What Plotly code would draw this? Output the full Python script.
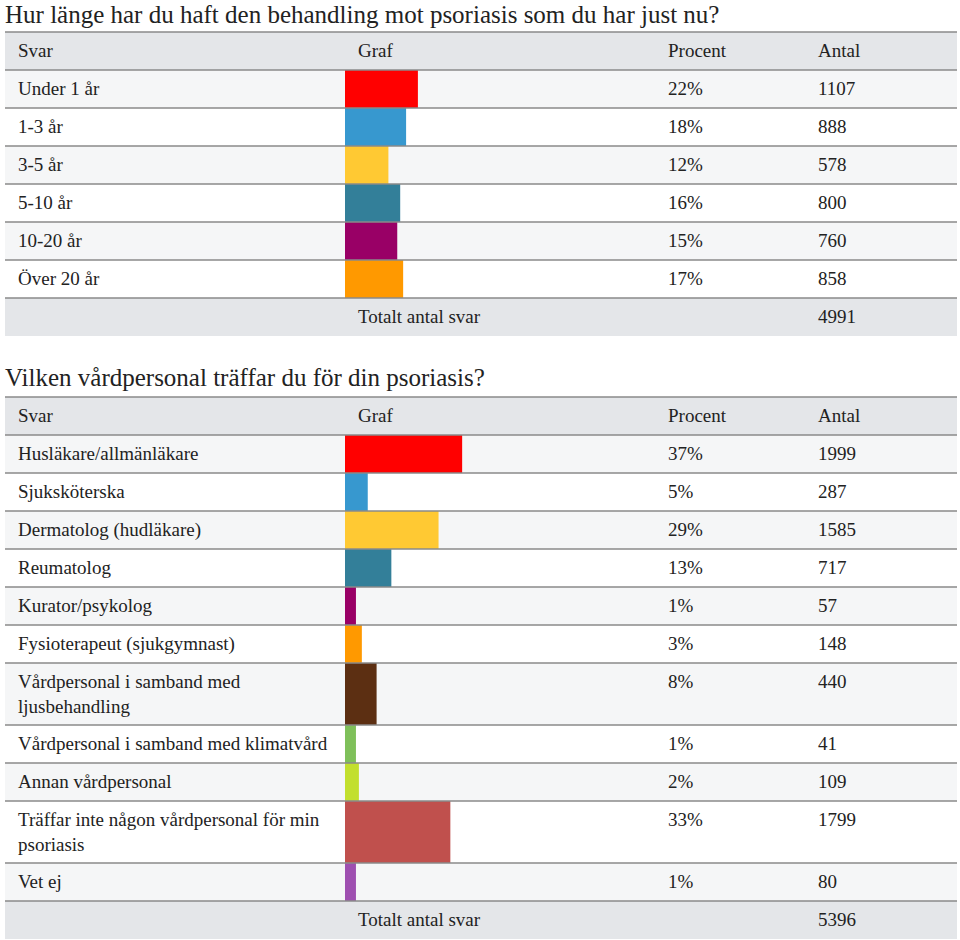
import plotly.graph_objects as go

# ---------------- data ----------------
q1_title = "Hur länge har du haft den behandling mot psoriasis som du har just nu?"
q1_labels = ["Under 1 år", "1-3 år", "3-5 år", "5-10 år", "10-20 år", "Över 20 år"]
q1_pct = [22, 18, 12, 16, 15, 17]
q1_count = [1107, 888, 578, 800, 760, 858]
q1_total = 4991
q1_colors = ["#ff0000", "#3798cf", "#ffc933", "#337f99", "#990066", "#ff9900"]

q2_title = "Vilken vårdpersonal träffar du för din psoriasis?"
q2_labels = ["Husläkare/allmänläkare", "Sjuksköterska", "Dermatolog (hudläkare)",
             "Reumatolog", "Kurator/psykolog", "Fysioterapeut (sjukgymnast)",
             "Vårdpersonal i samband med<br>ljusbehandling",
             "Vårdpersonal i samband med klimatvård", "Annan vårdpersonal",
             "Träffar inte någon vårdpersonal för min<br>psoriasis", "Vet ej"]
q2_pct = [37, 5, 29, 13, 1, 3, 8, 1, 2, 33, 1]
q2_count = [1999, 287, 1585, 717, 57, 148, 440, 41, 109, 1799, 80]
q2_total = 5396
q2_colors = ["#ff0000", "#3798cf", "#ffc933", "#337f99", "#990066", "#ff9900",
             "#5c2f12", "#7fc05a", "#c2df2e", "#c0504d", "#9e4fb0"]

headers = ["Svar", "Graf", "Procent", "Antal"]
total_label = "Totalt antal svar"

# ---------------- layout constants ----------------
W, H = 960, 940
X0, X1 = 5, 957
COL_SVAR, COL_GRAF_C, COL_BAR, COL_PCT, COL_ANT = 16, 375, 345, 666, 816
PX_PER_PCT = 2.95
BAR_PAD = 8 / PX_PER_PCT  # minimum visible stub of each bar (style)
ROW_H, ROW_H2 = 38, 62
HEAD_BG, LIGHT_BG = "#e4e6e9", "#f5f6f7"
LINE_C = "#8a8a8a"
TXT_C = "#222222"
FONT = "Liberation Serif, Times New Roman, serif"
FS, FS_T = 19, 25

fig = go.Figure()
shapes, annots = [], []


def txt(x, y, s, anchor="left", size=FS, yanchor="middle"):
    annots.append(dict(x=x, y=y, xref="x", yref="y", text=s, showarrow=False,
                       xanchor=anchor, yanchor=yanchor, align=anchor,
                       font=dict(family=FONT, size=size, color=TXT_C)))


def rect(y0, y1, color):
    shapes.append(dict(type="rect", xref="x", yref="y", x0=X0, x1=X1, y0=y0, y1=y1,
                       fillcolor=color, line=dict(width=0), layer="below"))


def hline(y):
    shapes.append(dict(type="line", xref="x", yref="y", x0=X0, x1=X1, y0=y, y1=y,
                       line=dict(color=LINE_C, width=1.5), layer="above"))


def section(title_y, top, title, labels, pct, counts, total, colors):
    txt(X0 - 2, title_y, title, size=FS_T)
    # header
    rect(top, top + ROW_H, HEAD_BG)
    hline(top)
    ym = top + ROW_H / 2 - 0.5
    txt(COL_SVAR, ym, headers[0])
    txt(COL_GRAF_C, ym, headers[1], anchor="center")
    txt(COL_PCT, ym, headers[2])
    txt(COL_ANT, ym, headers[3])
    y = top + ROW_H
    centers, heights = [], []
    for i, lab in enumerate(labels):
        h = ROW_H2 if "<br>" in lab else ROW_H
        hline(y)
        rect(y, y + h, LIGHT_BG if i % 2 == 0 else "white")
        c = y + h / 2 - 0.5
        txt(COL_SVAR, c, lab)
        yl = y + ROW_H / 2 - 0.5
        txt(COL_PCT, yl, f"{pct[i]}%")
        txt(COL_ANT, yl, str(counts[i]))
        centers.append(y + h / 2)
        heights.append(h)
        y += h
    hline(y)
    rect(y, y + ROW_H, HEAD_BG)
    txt(356, y + ROW_H / 2 - 0.5, total_label)
    txt(COL_ANT, y + ROW_H / 2 - 0.5, str(total))
    fig.add_trace(go.Bar(x=[p + BAR_PAD for p in pct], y=centers, width=heights,
                         orientation="h", base=0,
                         marker=dict(color=colors, line=dict(width=0)),
                         xaxis="x2", yaxis="y", showlegend=False, hoverinfo="skip"))


section(14, 32, q1_title, q1_labels, q1_pct, q1_count, q1_total, q1_colors)
section(377, 397, q2_title, q2_labels, q2_pct, q2_count, q2_total, q2_colors)

fig.update_layout(
    width=W, height=H, margin=dict(l=0, r=0, t=0, b=0),
    paper_bgcolor="white", plot_bgcolor="rgba(0,0,0,0)",
    shapes=shapes, annotations=annots,
    xaxis=dict(range=[0, W], visible=False, fixedrange=True, domain=[0, 1]),
    xaxis2=dict(range=[0, (W - COL_BAR) / PX_PER_PCT], visible=False, fixedrange=True,
                domain=[COL_BAR / W, 1], anchor="y"),
    yaxis=dict(range=[H, 0], visible=False, fixedrange=True),
    showlegend=False,
)
fig.write_html("out.html", config={"displayModeBar": False},
               post_script="document.body.style.margin='0';document.body.style.overflow='hidden';")
